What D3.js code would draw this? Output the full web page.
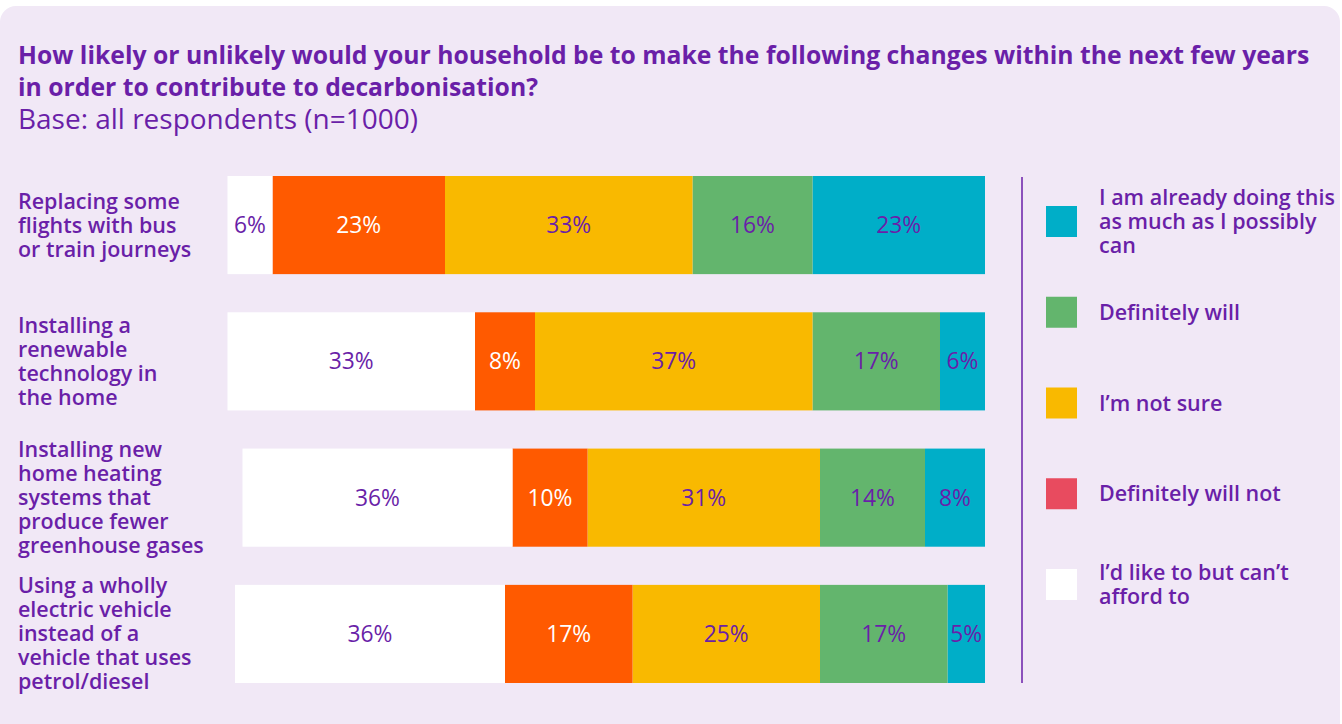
<!DOCTYPE html>
<html>
<head>
<meta charset="utf-8">
<script src="https://cdn.jsdelivr.net/npm/d3@7"></script>
<style>
    body { margin: 0; background: #fff; }
    svg { display: block; font-family: "Open Sans", Lato, sans-serif; }
</style>
</head>
<body>
<svg width="1342" height="724"></svg>
<script>
// rows, top to bottom
var categories = [
    ["Replacing some", "flights with bus", "or train journeys"],
    ["Installing a", "renewable", "technology in", "the home"],
    ["Installing new", "home heating", "systems that", "produce fewer", "greenhouse gases"],
    ["Using a wholly", "electric vehicle", "instead of a", "vehicle that uses", "petrol/diesel"]
];

// percentages per answer, one value per row
var cantAfford = [6, 33, 36, 36];
var definitelyNot = [23, 8, 10, 17];
var notSure = [33, 37, 31, 25];
var definitelyWill = [16, 17, 14, 17];
var alreadyDoing = [23, 6, 8, 5];

// legend (top to bottom)
var legendKeys = ["alreadyDoing", "definitelyWill", "notSure", "definitelyNot", "cantAfford"];
var legendLabels = [
    ["I am already doing this", "as much  as I possibly", "can"],
    ["Definitely will"],
    ["I\u2019m not sure"],
    ["Definitely will not"],
    ["I\u2019d like to but can\u2019t", "afford to"]
];

var barColours = {
    cantAfford: "#ffffff",
    definitelyNot: "#ff5a00",
    notSure: "#f9b900",
    definitelyWill: "#63b56d",
    alreadyDoing: "#00aec8"
};
var legendColours = {
    cantAfford: "#ffffff",
    definitelyNot: "#e84b5f",
    notSure: "#f9b900",
    definitelyWill: "#63b56d",
    alreadyDoing: "#00aec8"
};

var purple = "#6a1fa8";

var svg = d3.select("svg"),
    width = +svg.attr("width"),
    height = +svg.attr("height");

// pick a font size so that a sample string is as wide as in the reference
function fitSize(sample, target, weight) {
    var t = svg.append("text")
        .style("font-size", "20px")
        .style("font-weight", weight)
        .text(sample);
    var w = t.node().getComputedTextLength();
    t.remove();
    return 20 * target / w;
}

var titleSize = fitSize("How likely or unlikely would your household be to make the following changes within the next few years", 1292, 700);
var subSize = fitSize("Base: all respondents (n=1000)", 400, 400);
var catSize = fitSize("Replacing some", 162, 600);
var legSize = fitSize("I am already doing this", 236, 600);
var valSize = fitSize("33%", 45, 400);

// panel
svg.append("rect")
    .attr("x", 0).attr("y", 6)
    .attr("width", 1340).attr("height", 740)
    .attr("rx", 16)
    .attr("fill", "#f1e8f6");

// titles
var title = svg.append("g").attr("fill", purple);
title.append("text")
    .attr("x", 18).attr("y", 64)
    .style("font-size", titleSize + "px").style("font-weight", 700)
    .text("How likely or unlikely would your household be to make the following changes within the next few years");
title.append("text")
    .attr("x", 18).attr("y", 96)
    .style("font-size", titleSize + "px").style("font-weight", 700)
    .text("in order to contribute to decarbonisation?");
title.append("text")
    .attr("x", 18).attr("y", 129)
    .style("font-size", subSize + "px")
    .text("Base: all respondents (n=1000)");

// build table for the stack
var keysFromRight = ["alreadyDoing", "definitelyWill", "notSure", "definitelyNot", "cantAfford"];
var table = categories.map(function (c, i) {
    return {
        row: i,
        cantAfford: cantAfford[i],
        definitelyNot: definitelyNot[i],
        notSure: notSure[i],
        definitelyWill: definitelyWill[i],
        alreadyDoing: alreadyDoing[i]
    };
});
var series = d3.stack().keys(keysFromRight)(table);

// bars are right aligned, stacked leftwards
var x = d3.scaleLinear().domain([0, 100]).range([985, 235]);
var y = d3.scaleBand()
    .domain(d3.range(categories.length))
    .range([176, 683])
    .paddingInner(0.28)
    .paddingOuter(0);

var layer = svg.append("g")
    .selectAll("g")
    .data(series)
    .enter().append("g")
    .attr("fill", function (d) { return barColours[d.key]; });

layer.selectAll("rect")
    .data(function (d) { return d; })
    .enter().append("rect")
    .attr("x", function (d) { return x(d[1]); })
    .attr("y", function (d) { return y(d.data.row); })
    .attr("width", function (d) { return x(d[0]) - x(d[1]); })
    .attr("height", y.bandwidth());

layer.selectAll("text")
    .data(function (d) { return d.map(function (p) { p.key = d.key; return p; }); })
    .enter().append("text")
    .attr("x", function (d) { return (x(d[0]) + x(d[1])) / 2; })
    .attr("y", function (d) { return y(d.data.row) + y.bandwidth() / 2; })
    .attr("dy", "0.35em")
    .attr("text-anchor", "middle")
    .style("font-size", valSize + "px")
    .attr("fill", function (d) { return d.key == "definitelyNot" ? "#ffffff" : purple; })
    .text(function (d) { return d.data[d.key] + "%"; });

// category labels
var lineHeight = 24;
var catLabels = svg.append("g")
    .selectAll("text")
    .data(categories)
    .enter().append("text")
    .attr("fill", purple)
    .style("font-size", catSize + "px")
    .style("font-weight", 600)
    .attr("transform", function (d, i) {
        var cy = y(i) + y.bandwidth() / 2 - (d.length - 1) * lineHeight / 2;
        return "translate(18," + cy + ")";
    });
catLabels.selectAll("tspan")
    .data(function (d) { return d; })
    .enter().append("tspan")
    .attr("x", 0)
    .attr("y", function (d, i) { return i * lineHeight; })
    .attr("dy", "0.35em")
    .text(function (d) { return d; });

// divider
svg.append("line")
    .attr("x1", 1022).attr("x2", 1022)
    .attr("y1", 177).attr("y2", 683)
    .attr("stroke", purple)
    .attr("stroke-width", 1.5);

// legend
var ly = d3.scalePoint().domain(legendKeys).range([221.5, 584.5]);
var legend = svg.append("g")
    .selectAll("g")
    .data(legendKeys)
    .enter().append("g")
    .attr("transform", function (d) { return "translate(1046," + ly(d) + ")"; });

legend.append("rect")
    .attr("x", 0).attr("y", -15.5)
    .attr("width", 31).attr("height", 31)
    .attr("fill", function (d) { return legendColours[d]; });

legend.append("text")
    .attr("fill", purple)
    .style("font-size", legSize + "px")
    .style("font-weight", 600)
    .selectAll("tspan")
    .data(function (d, i) {
        var lines = legendLabels[i];
        return lines.map(function (l, j) { return { text: l, j: j, n: lines.length }; });
    })
    .enter().append("tspan")
    .attr("x", 53)
    .attr("y", function (d) { return (d.j - (d.n - 1) / 2) * lineHeight; })
    .attr("dy", "0.35em")
    .text(function (d) { return d.text; });
</script>
</body>
</html>
